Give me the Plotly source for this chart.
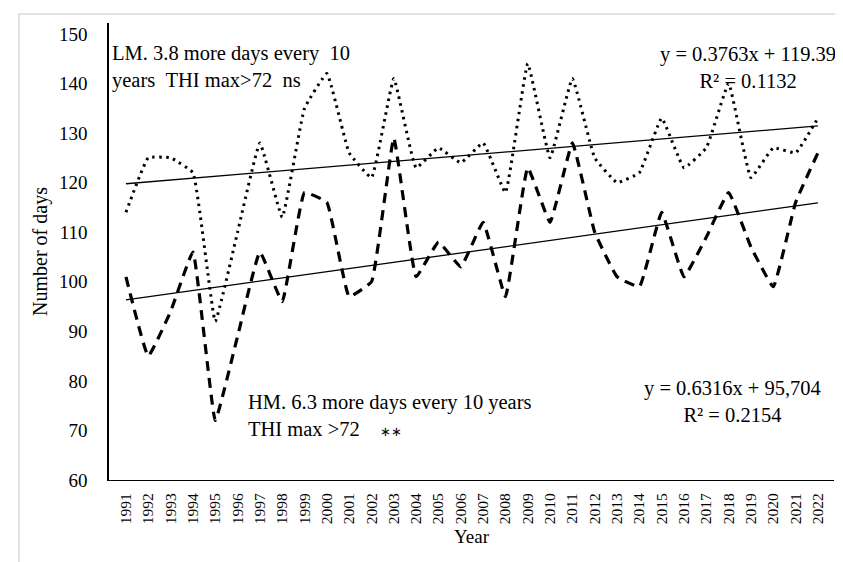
import plotly.graph_objects as go

# ---------------- data ----------------
years = list(range(1991, 2023))
year_labels = [str(y) for y in years]
lm_days = [114, 125, 125, 122, 92, 110, 128, 113, 135, 142, 126, 121, 141, 123, 127, 124,
           128, 118, 144, 125, 141, 125, 120, 122, 133, 123, 127, 140, 121, 127, 126, 133]
hm_days = [101, 85, 94, 106, 72, 89, 106, 96, 118, 116, 97, 100, 129, 101, 108, 103,
           112, 97, 123, 112, 128, 110, 101, 99, 114, 101, 109, 118, 107, 99, 116, 126]
lm_slope, lm_intercept = 0.3763, 119.39
hm_slope, hm_intercept = 0.6316, 95.704
y_ticks = list(range(60, 151, 10))

# trend lines (Excel-style: x = 1..n)
idx = [1, len(years)]
trend_x = [years[0], years[-1]]
lm_trend = [lm_intercept + lm_slope * i for i in idx]
hm_trend = [hm_intercept + hm_slope * i for i in idx]

# ---------------- layout geometry ----------------
W, H = 843, 562
L, R, T, B = 101, 17, 15, 90
PW, PH = W - L - R, H - T - B

def px(p):
    return (p - L) / PW

def py(p):
    return (H - B - p) / PH

FONT = "Liberation Serif, Times New Roman, serif"
ANN_SIZE = 20.5

fig = go.Figure()
fig.add_trace(go.Scatter(x=years, y=lm_days, mode="lines",
                         line=dict(color="black", width=3, dash="2.5px,4.5px", shape="spline", smoothing=0.3),
                         showlegend=False, name="LM"))
fig.add_trace(go.Scatter(x=years, y=hm_days, mode="lines",
                         line=dict(color="black", width=3.2, dash="10px,7px", shape="spline", smoothing=0.3),
                         showlegend=False, name="HM"))
fig.add_trace(go.Scatter(x=trend_x, y=lm_trend, mode="lines",
                         line=dict(color="black", width=1.3), showlegend=False))
fig.add_trace(go.Scatter(x=trend_x, y=hm_trend, mode="lines",
                         line=dict(color="black", width=1.3), showlegend=False))

nb = "\u00a0"
annotations = [
    dict(x=px(102), y=py(59.5), xanchor="left", yanchor="middle", align="left",
         text=f"LM. 3.8 more days every{nb}{nb}10<br>years{nb}{nb}THI max>72{nb}{nb}ns"),
    dict(x=px(740), y=py(59.5), xanchor="center", yanchor="middle", align="center",
         text="y = 0.3763x + 119.39<br>R² = 0.1132"),
    dict(x=px(238), y=py(407.5), xanchor="left", yanchor="middle", align="left",
         text=f"HM. 6.3 more days every 10 years<br>THI max >72{nb}{nb}{nb}{nb}<span style='font-size:13px'>∗∗</span>"),
    dict(x=px(724), y=py(393.5), xanchor="center", yanchor="middle", align="center",
         text="y = 0.6316x + 95,704<br>R² = 0.2154"),
]
for a in annotations:
    a.update(xref="paper", yref="paper", showarrow=False,
             font=dict(family=FONT, size=ANN_SIZE, color="black"))

fig.update_layout(
    width=W, height=H,
    margin=dict(l=L, r=R, t=T, b=B),
    paper_bgcolor="white", plot_bgcolor="white",
    font=dict(family=FONT, color="black"),
    annotations=annotations,
    shapes=[dict(type="rect", xref="paper", yref="paper",
                 x0=px(11), x1=px(838), y0=py(6), y1=py(580),
                 line=dict(color="#d9d9d9", width=1.5), layer="below")],
)
fig.update_xaxes(
    range=[1990.24, 2022.72], tickmode="array", tickvals=years, ticktext=year_labels,
    tickangle=-90, tickfont=dict(family=FONT, size=15.5, color="black"),
    showgrid=False, zeroline=False, showline=True, linecolor="black", linewidth=1.3,
    ticks="", ticklabelstandoff=6,
    title=dict(text="Year", font=dict(family=FONT, size=19, color="black"), standoff=6),
)
fig.update_yaxes(
    range=[60, 152.2], tickmode="array", tickvals=y_ticks,
    tickfont=dict(family=FONT, size=19, color="black"),
    showgrid=False, zeroline=False, showline=True, linecolor="black", linewidth=1.5,
    ticks="", ticklabelstandoff=16,
    title=dict(text="Number of days", font=dict(family=FONT, size=20, color="black"), standoff=6),
)

fig.write_html("out.html")
